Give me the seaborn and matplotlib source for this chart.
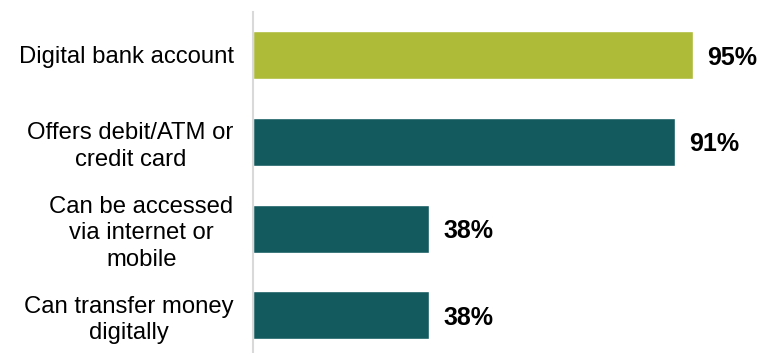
import matplotlib
matplotlib.use("Agg")
import matplotlib.pyplot as plt
import seaborn as sns
import pandas as pd

categories = ["Digital bank account", "Offers debit/ATM or\ncredit card",
              "Can be accessed\nvia internet or\nmobile", "Can transfer money\ndigitally"]
values = [95, 91, 38, 38]
value_labels = ["95%", "91%", "38%", "38%"]
colors = ["#adbb38", "#135a5f", "#135a5f", "#135a5f"]

sns.set_theme(style="white")
plt.rcParams['font.family'] = ['Liberation Sans', 'DejaVu Sans']

df = pd.DataFrame({"cat": categories, "val": values})

fig = plt.figure(figsize=(7.63, 3.53), dpi=100)
ax = fig.add_axes([253/763, 0.0, 1 - 253/763, 1 - 12/353])
sns.barplot(data=df, y="cat", x="val", hue="cat", palette=colors, legend=False,
            width=0.553, orient="h", ax=ax, saturation=1)

ax.set_xlim(0, 110)
ax.set_ylim(3.432, -0.495)
ax.set_xlabel("")
ax.set_ylabel("")
ax.set_xticks([])
ax.tick_params(axis="y", length=0, pad=14, labelsize=17.2)
for lbl in ax.get_yticklabels():
    lbl.set_multialignment("center")
    lbl.set_color("black")
    lbl.set_linespacing(1.25)
for s in ["top", "right", "bottom"]:
    ax.spines[s].set_visible(False)
ax.spines["left"].set_color("#d9d9d9")
ax.spines["left"].set_linewidth(1.5)

for i, (v, t) in enumerate(zip(values, value_labels)):
    ax.text(v + 3.0, i + 0.03, t, va="center", ha="left", fontsize=18,
            fontweight="bold", color="black")

fig.savefig("out.png", dpi=100, facecolor="white")
